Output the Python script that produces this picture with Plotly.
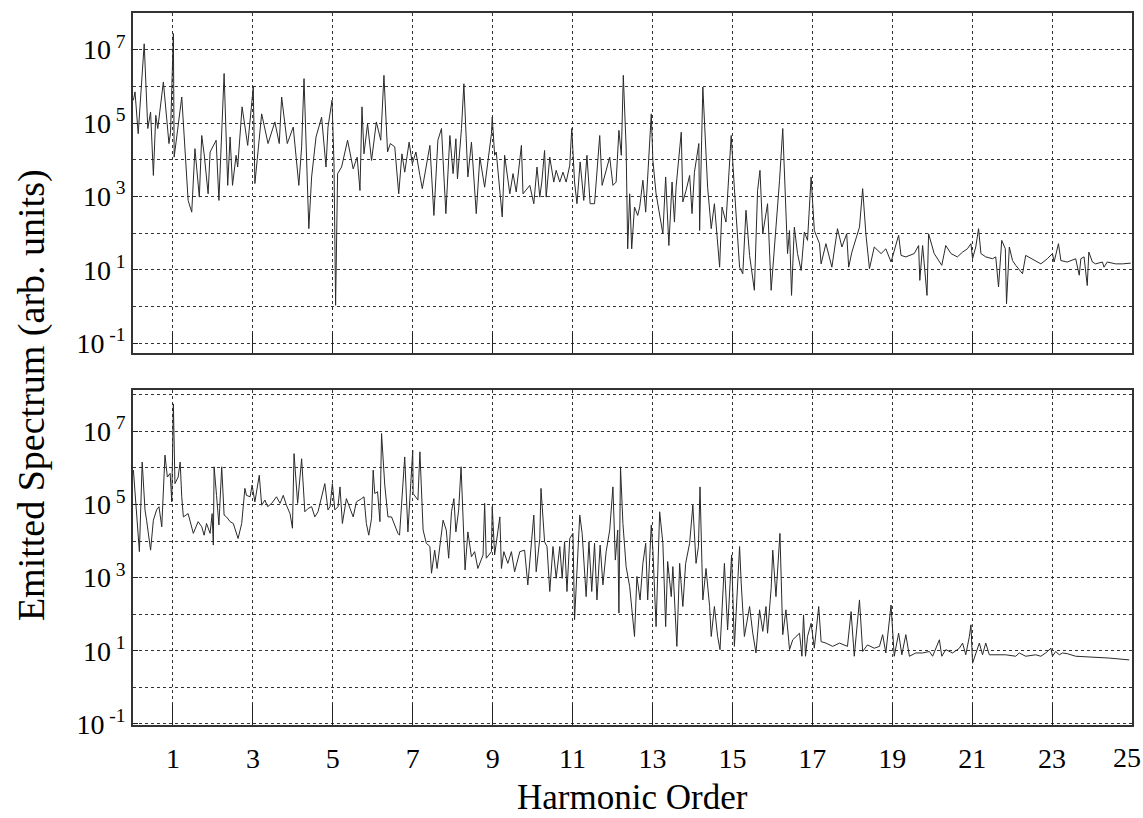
import plotly.graph_objects as go

# ---------------- data ----------------
# Upper panel: harmonic order and log10 of emitted spectrum
top_x = [0.01, 0.05, 0.13, 0.22, 0.28, 0.37, 0.44, 0.51, 0.57, 0.62, 0.76, 0.90, 0.94, 1.01, 1.03, 1.22, 1.38, 1.47,
         1.55, 1.66, 1.72, 1.78, 1.88, 1.93, 2.08, 2.15, 2.22, 2.28, 2.37, 2.43, 2.49, 2.58, 2.62, 2.73, 2.87, 3.01,
         3.05, 3.22, 3.38, 3.55, 3.66, 3.72, 3.86, 4.01, 4.15, 4.22, 4.28, 4.40, 4.47, 4.58, 4.72, 4.83, 4.88, 4.98,
         5.03, 5.07, 5.12, 5.22, 5.37, 5.51, 5.61, 5.68, 5.73, 5.78, 5.87, 5.97, 6.09, 6.20, 6.28, 6.37, 6.44, 6.55,
         6.65, 6.73, 6.80, 6.91, 6.99, 7.08, 7.18, 7.24, 7.43, 7.53, 7.63, 7.72, 7.76, 7.83, 7.93, 8.01, 8.08, 8.12,
         8.22, 8.28, 8.38, 8.47, 8.59, 8.68, 8.80, 8.97, 8.99, 9.05, 9.09, 9.24, 9.30, 9.43, 9.51, 9.59, 9.72, 9.76,
         9.93, 10.03, 10.11, 10.18, 10.23, 10.30, 10.34, 10.43, 10.53, 10.59, 10.68, 10.76, 10.84, 10.93, 10.98,
         11.05, 11.11, 11.19, 11.28, 11.36, 11.44, 11.55, 11.68, 11.74, 11.93, 12.01, 12.09, 12.16, 12.22, 12.27,
         12.34, 12.38, 12.43, 12.48, 12.55, 12.63, 12.68, 12.76, 12.83, 12.97, 13.01, 13.09, 13.26, 13.33, 13.41,
         13.49, 13.55, 13.59, 13.72, 13.76, 13.84, 13.93, 13.99, 14.05, 14.16, 14.18, 14.26, 14.38, 14.47, 14.55,
         14.68, 14.74, 14.84, 14.97, 15.05, 15.18, 15.26, 15.34, 15.43, 15.55, 15.63, 15.69, 15.76, 15.88, 15.97,
         16.09, 16.18, 16.26, 16.38, 16.43, 16.48, 16.55, 16.63, 16.72, 16.80, 16.88, 16.97, 17.05, 17.18, 17.22,
         17.34, 17.49, 17.63, 17.74, 17.86, 17.91, 17.99, 18.18, 18.26, 18.34, 18.43, 18.55, 18.72, 18.84, 18.97,
         19.16, 19.22, 19.34, 19.55, 19.66, 19.69, 19.76, 19.87, 19.91, 20.05, 20.24, 20.34, 20.47, 20.63, 20.76,
         20.88, 20.97, 21.01, 21.09, 21.16, 21.22, 21.34, 21.51, 21.59, 21.66, 21.74, 21.83, 21.86, 21.93, 22.01,
         22.09, 22.26, 22.34, 22.55, 22.72, 22.88, 23.01, 23.05, 23.16, 23.22, 23.38, 23.59, 23.68, 23.72, 23.80,
         23.88, 23.92, 24.01, 24.09, 24.26, 24.30, 24.38, 24.59, 24.76, 24.97]
top_log10 = [5.62, 5.85, 4.71, 6.03, 7.16, 4.85, 5.30, 3.57, 5.21, 4.85, 6.12, 4.44, 4.75, 7.44, 4.07, 5.71, 2.89, 2.57,
             4.30, 2.98, 4.66, 4.16, 3.07, 4.21, 4.53, 2.89, 4.80, 6.35, 3.30, 4.62, 3.30, 4.12, 3.80, 5.44, 4.39, 5.98,
             3.35, 5.25, 4.44, 5.03, 4.44, 5.71, 4.44, 4.89, 3.30, 4.35, 6.21, 2.12, 3.53, 4.62, 5.16, 3.80, 4.89, 5.62,
             3.89, 0.03, 3.62, 3.80, 4.53, 3.75, 4.07, 3.16, 5.44, 4.16, 4.98, 3.98, 5.03, 4.53, 6.30, 4.21, 4.44, 4.35,
             3.07, 4.16, 3.66, 4.48, 3.89, 4.21, 3.57, 3.21, 4.39, 2.48, 4.53, 4.85, 3.98, 2.53, 4.66, 3.62, 4.57, 3.48,
             4.85, 6.07, 3.53, 4.48, 2.53, 4.07, 3.25, 4.71, 5.16, 4.12, 4.21, 2.44, 4.12, 3.07, 3.62, 3.12, 4.39, 3.07,
             3.30, 2.80, 3.80, 2.98, 3.39, 4.25, 2.98, 4.07, 3.39, 3.71, 3.39, 3.66, 3.39, 3.85, 4.85,
             3.39, 2.80, 3.94, 2.89, 4.12, 2.80, 2.80, 4.66, 3.30, 4.07, 3.30, 3.39, 4.80, 4.12, 6.30,
             4.35, 1.57, 3.07, 1.57, 2.71, 2.48, 2.71, 3.44, 2.57, 5.25, 3.98, 3.07, 1.98, 3.53, 1.66,
             3.39, 2.30, 3.25, 4.75, 2.85, 3.16, 3.57, 2.53, 3.66, 4.44, 2.07, 5.98, 3.25, 2.12, 2.80,
             1.07, 2.71, 2.30, 4.66, 3.21, 1.07, 0.89, 2.62, 1.39, 0.44, 3.16, 3.71, 1.98, 2.80, 0.44,
             2.07, 3.44, 4.85, 1.44, 2.07, 0.30, 2.16, 1.44, 0.98, 2.03, 1.80, 3.53, 2.07, 1.71, 1.16,
             1.71, 1.07, 2.12, 1.62, 1.98, 1.07, 1.48, 2.16, 3.21, 1.98, 1.03, 1.62, 1.44, 1.57, 1.21,
             1.94, 1.39, 1.35, 1.44, 1.66, 0.71, 1.66, 0.30, 1.98, 1.44, 1.12, 1.66, 1.44, 1.35, 1.48,
             1.57, 1.71, 1.30, 1.62, 2.12, 1.44, 1.35, 1.30, 1.35, 0.53, 1.80, 1.57, 0.07, 1.62, 1.25,
             1.12, 0.89, 1.39, 1.25, 1.16, 1.30, 1.44, 1.21, 1.71, 1.25, 1.21, 1.30, 0.85, 1.30, 1.35,
             0.57, 1.48, 1.21, 1.16, 1.21, 1.07, 1.21, 1.16, 1.16, 1.18]

# Lower panel
bot_x = [0.01, 0.16, 0.23, 0.30, 0.34, 0.44, 0.51, 0.59, 0.65, 0.72, 0.80, 0.86, 0.93, 0.97, 1.01, 1.05, 1.13, 1.18,
         1.22, 1.26, 1.38, 1.51, 1.63, 1.72, 1.78, 1.84, 1.93, 1.98, 2.01, 2.03, 2.09, 2.15, 2.22, 2.28, 2.34, 2.43,
         2.51, 2.63, 2.72, 2.80, 2.84, 2.93, 2.98, 3.05, 3.16, 3.22, 3.30, 3.37, 3.47, 3.59, 3.68, 3.76, 3.84, 3.93,
         3.99, 4.03, 4.12, 4.22, 4.30, 4.38, 4.47, 4.55, 4.63, 4.76, 4.80, 4.88, 4.93, 4.99, 5.05, 5.13, 5.18, 5.24,
         5.34, 5.51, 5.59, 5.72, 5.78, 5.84, 5.90, 5.97, 6.01, 6.05, 6.12, 6.18, 6.22, 6.30, 6.38, 6.47, 6.55, 6.63,
         6.67, 6.80, 6.88, 7.00, 7.01, 7.13, 7.18, 7.26, 7.34, 7.43, 7.47, 7.55, 7.61, 7.68, 7.76, 7.84, 7.90, 7.97,
         8.03, 8.08, 8.15, 8.21, 8.28, 8.31, 8.38, 8.47, 8.55, 8.63, 8.76, 8.80, 8.84, 8.97, 8.99, 9.05, 9.18, 9.22,
         9.28, 9.38, 9.47, 9.55, 9.68, 9.80, 9.88, 9.97, 10.03, 10.09, 10.18, 10.21, 10.30, 10.36, 10.43, 10.51,
         10.59, 10.68, 10.74, 10.80, 10.86, 10.93, 11.01, 11.05, 11.13, 11.18, 11.24, 11.34, 11.41, 11.48, 11.55,
         11.61, 11.69, 11.76, 11.84, 11.93, 12.01, 12.07, 12.13, 12.16, 12.20, 12.26, 12.34, 12.43, 12.55, 12.61,
         12.69, 12.76, 12.83, 12.88, 12.97, 13.01, 13.09, 13.18, 13.26, 13.33, 13.38, 13.47, 13.51, 13.61, 13.68,
         13.76, 13.83, 13.93, 14.01, 14.09, 14.15, 14.19, 14.26, 14.34, 14.43, 14.47, 14.55, 14.63, 14.69, 14.80,
         14.88, 14.98, 15.05, 15.18, 15.22, 15.30, 15.43, 15.51, 15.59, 15.68, 15.76, 15.84, 15.88, 15.97, 16.01,
         16.09, 16.19, 16.26, 16.34, 16.43, 16.51, 16.59, 16.68, 16.74, 16.78, 16.83, 16.88, 16.97, 17.05, 17.16,
         17.22, 17.34, 17.51, 17.68, 17.88, 17.97, 18.05, 18.18, 18.26, 18.38, 18.55, 18.68, 18.76, 18.84, 18.97,
         19.05, 19.16, 19.24, 19.34, 19.43, 19.59, 19.76, 19.93, 20.01, 20.18, 20.24, 20.34, 20.51, 20.68, 20.76,
         20.84, 20.93, 20.97, 21.01, 21.09, 21.18, 21.26, 21.34, 21.43, 21.59, 21.84, 22.09, 22.18, 22.34, 22.59,
         22.72, 22.84, 22.97, 23.01, 23.09, 23.18, 23.26, 23.38, 23.59, 24.01, 24.43, 24.93]
bot_log10 = [5.94, 3.71, 6.16, 4.85, 4.57, 3.75, 4.57, 4.85, 4.94, 4.39, 6.35, 5.75, 5.85, 5.07, 7.75, 5.57, 5.75, 6.16,
             5.21, 4.66, 4.75, 4.21, 4.53, 4.39, 4.16, 4.48, 4.21, 4.75, 3.89, 6.03, 5.25, 4.44, 6.03, 4.71, 4.66, 4.53,
             4.48, 4.07, 4.48, 5.44, 5.25, 5.21, 5.53, 5.07, 5.80, 4.98, 5.12, 4.94, 5.03, 5.21, 5.03, 5.25, 4.98, 4.75,
             4.35, 6.39, 5.03, 6.25, 4.80, 4.89, 4.94, 4.66, 4.80, 5.35, 5.57, 4.85, 4.94, 5.57, 4.85, 4.94, 5.48, 4.48,
             5.16, 4.66, 5.07, 5.16, 5.21, 4.48, 4.16, 4.62, 5.94, 5.30, 5.35, 4.53, 6.94, 5.53, 4.66, 4.66, 4.44, 4.21,
             4.16, 6.30, 4.25, 6.48, 5.30, 5.12, 6.44, 4.30, 3.94, 3.85, 3.12, 3.75, 3.25, 3.94, 4.57, 4.30, 3.53, 4.80,
             5.16, 4.25, 4.85, 6.03, 4.07, 3.21, 4.25, 3.57, 3.71, 3.25, 3.62, 5.03, 3.53, 3.71, 4.94, 3.62, 4.66, 3.25,
             3.71, 3.39, 3.71, 3.16, 3.71, 3.75, 2.80, 4.03, 4.71, 3.16, 4.07, 5.44, 3.98, 3.85, 2.62, 3.85,
             2.98, 3.85, 2.98, 3.98, 2.62, 4.07, 4.21, 1.85, 3.48, 4.71, 4.21, 2.48, 3.98, 2.62, 3.94,
             2.39, 3.89, 2.80, 3.71, 4.30, 5.48, 3.48, 4.30, 2.03, 6.03, 4.48, 3.30, 2.75, 1.39, 3.03,
             2.39, 3.39, 3.94, 2.39, 4.44, 3.75, 1.66, 4.80, 3.94, 1.66, 3.44, 2.48, 3.30, 1.12, 3.39,
             2.21, 3.39, 3.94, 4.98, 3.39, 3.85, 5.48, 2.39, 3.25, 2.21, 1.39, 2.21, 1.39, 1.03, 3.39,
             1.57, 3.62, 1.12, 3.85, 2.85, 1.39, 2.21, 1.48, 0.94, 2.12, 1.53, 2.21, 1.48, 2.71, 3.75,
             2.48, 4.21, 1.44, 2.12, 1.03, 1.30, 1.39, 1.48, 0.85, 1.98, 0.85, 1.39, 1.75, 1.07, 2.21,
             1.25, 1.21, 1.12, 1.21, 1.12, 2.07, 0.85, 2.39, 0.98, 1.16, 1.07, 1.12, 1.44, 0.94, 2.25,
             0.85, 1.48, 0.89, 1.44, 0.85, 0.94, 0.94, 0.98, 0.85, 1.30, 0.85, 1.03, 0.94, 1.07, 1.21,
             0.89, 1.39, 1.71, 0.66, 0.94, 1.21, 0.89, 1.21, 0.89, 0.89, 0.89, 0.85, 0.94, 0.85, 0.89,
             0.85, 0.94, 1.07, 0.85, 0.98, 0.89, 0.94, 0.92, 0.85, 0.83, 0.80, 0.75]

x_tick_vals = [1, 3, 5, 7, 9, 11, 13, 15, 17, 19, 21, 23, 25]
y_label_exps = [-1, 1, 3, 5, 7]
y_grid_exps = [0, 2, 4, 6, 8]

# ---------------- figure ----------------
FONT = "Liberation Serif, Times New Roman, serif"
LINE = "#2a2a2a"
GRID = "#333333"

fig = go.Figure()
fig.add_trace(go.Scatter(x=top_x, y=[10 ** v for v in top_log10], mode="lines",
                         line=dict(color=LINE, width=1), xaxis="x", yaxis="y", showlegend=False))
fig.add_trace(go.Scatter(x=bot_x, y=[10 ** v for v in bot_log10], mode="lines",
                         line=dict(color=LINE, width=1), xaxis="x2", yaxis="y2", showlegend=False))

# the last x label sits at the figure's right edge; it is drawn as an annotation
# tucked just inside the edge so it is not clipped
x_tick_text = [str(v) if v != x_tick_vals[-1] else "" for v in x_tick_vals]

def xax(show_labels):
    return dict(range=[0, 25], tickmode="array", tickvals=x_tick_vals, ticktext=x_tick_text,
                showticklabels=show_labels, ticks="inside", ticklen=20, tickwidth=1, tickcolor="#222",
                showgrid=True, gridcolor=GRID, griddash="dot", gridwidth=1,
                showline=True, linecolor="#333", linewidth=1.5, mirror=True, zeroline=False,
                ticklabelstandoff=8, ticklabeloverflow="allow", automargin=False,
                tickfont=dict(family=FONT, size=28, color="black"))

def yax(rng, domain):
    return dict(type="log", range=rng, domain=domain, tickmode="array",
                tickvals=[10.0 ** e for e in y_label_exps],
                ticktext=["10<sup> %d</sup>" % e for e in y_label_exps],
                ticks="inside", ticklen=5, tickwidth=1, tickcolor="#222",
                showgrid=True, gridcolor=GRID, griddash="dot", gridwidth=1,
                minor=dict(tickmode="array", tickvals=[10.0 ** e for e in y_grid_exps], ticks="",
                           showgrid=True, gridcolor=GRID, griddash="dot", gridwidth=1),
                showline=True, linecolor="#333", linewidth=1.5, mirror=True, zeroline=False,
                automargin=False,
                tickfont=dict(family=FONT, size=28, color="black"))

fig.update_layout(
    width=1143, height=818,
    margin=dict(l=133, r=11, t=13, b=93, autoexpand=False),
    paper_bgcolor="white", plot_bgcolor="white",
    xaxis=dict(xax(False), anchor="y", domain=[0, 1]),
    yaxis=dict(yax([-1.27, 8.0], [0.5225, 1.0]), anchor="x"),
    xaxis2=dict(xax(True), anchor="y2", domain=[0, 1]),
    yaxis2=dict(yax([-1.03, 8.13], [0.0, 0.4705]), anchor="x2"),
    annotations=[
        dict(text="Emitted Spectrum (arb. units)", xref="paper", yref="paper",
             x=-0.101, y=0.4635, xanchor="center", yanchor="middle", textangle=-90,
             showarrow=False, font=dict(family=FONT, size=38, color="black")),
        dict(text="Harmonic Order", xref="paper", yref="paper",
             x=0.5, y=-0.1025, xanchor="center", yanchor="middle",
             showarrow=False, font=dict(family=FONT, size=35, color="black")),
        dict(text=str(x_tick_vals[-1]), xref="x2", yref="paper",
             x=x_tick_vals[-1], y=-0.0463, xanchor="center", yanchor="middle", xshift=-5,
             showarrow=False, font=dict(family=FONT, size=28, color="black")),
    ],
)

fig.write_html("out.html", config={"displayModeBar": False},
               post_script="document.body.style.margin='0';document.body.style.overflow='hidden';")
